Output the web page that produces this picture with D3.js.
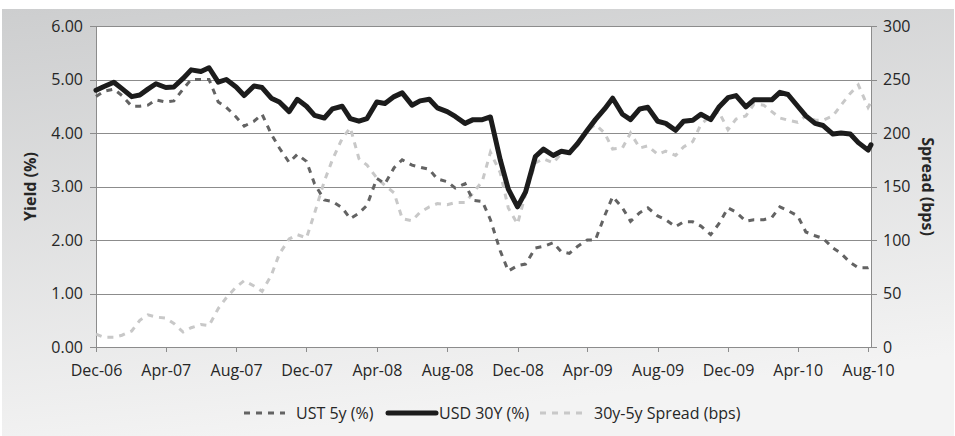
<!DOCTYPE html>
<html>
<head>
<meta charset="utf-8">
<script src="https://cdn.jsdelivr.net/npm/d3@7"></script>
<style>
body { margin: 0; background: #fff; }
text { font-family: 'Open Sans', sans-serif; fill: #262626; }
.axis text { font-size: 16px; }
.axis path, .axis line { stroke: #8c8c8c; shape-rendering: crispEdges; }
.grid line { stroke: #8c8c8c; shape-rendering: crispEdges; }
.grid path { display: none; }
</style>
</head>
<body>
<script>
// semi-monthly readings, Dec-06 to Aug-10
const dates = [
    '2006-12-01','2006-12-15','2007-01-01','2007-01-15','2007-02-01','2007-02-15','2007-03-01','2007-03-15',
    '2007-04-01','2007-04-15','2007-05-01','2007-05-15','2007-06-01','2007-06-15','2007-07-01','2007-07-15',
    '2007-08-01','2007-08-15','2007-09-01','2007-09-15','2007-10-01','2007-10-15','2007-11-01','2007-11-15',
    '2007-12-01','2007-12-15','2008-01-01','2008-01-15','2008-02-01','2008-02-15','2008-03-01','2008-03-15',
    '2008-04-01','2008-04-15','2008-05-01','2008-05-15','2008-06-01','2008-06-15','2008-07-01','2008-07-15',
    '2008-08-01','2008-08-15','2008-09-01','2008-09-15','2008-10-01','2008-10-15','2008-11-01','2008-11-15',
    '2008-12-01','2008-12-15','2009-01-01','2009-01-15','2009-02-01','2009-02-15','2009-03-01','2009-03-15',
    '2009-04-01','2009-04-15','2009-05-01','2009-05-15','2009-06-01','2009-06-15','2009-07-01','2009-07-15',
    '2009-08-01','2009-08-15','2009-09-01','2009-09-15','2009-10-01','2009-10-15','2009-11-01','2009-11-15',
    '2009-12-01','2009-12-15','2010-01-01','2010-01-15','2010-02-01','2010-02-15','2010-03-01','2010-03-15',
    '2010-04-01','2010-04-15','2010-05-01','2010-05-15','2010-06-01','2010-06-15','2010-07-01','2010-07-15',
    '2010-08-01','2010-08-06'
];

const ust5y = [
    4.68, 4.78, 4.82, 4.70, 4.50, 4.50, 4.52, 4.62, 4.58, 4.60, 4.82, 5.00, 5.00, 5.00, 4.58, 4.48,
    4.30, 4.13, 4.22, 4.35, 3.98, 3.72, 3.45, 3.60, 3.47, 3.05, 2.75, 2.72, 2.60, 2.40, 2.50, 2.65,
    3.15, 3.05, 3.35, 3.50, 3.40, 3.36, 3.32, 3.14, 3.09, 2.97, 3.05, 2.74, 2.72, 2.38, 1.80, 1.42,
    1.52, 1.55, 1.85, 1.88, 1.95, 1.78, 1.75, 1.88, 2.00, 2.00, 2.45, 2.81, 2.60, 2.35, 2.51, 2.60,
    2.45, 2.38, 2.25, 2.34, 2.34, 2.26, 2.10, 2.30, 2.60, 2.52, 2.35, 2.38, 2.38, 2.42, 2.62, 2.55,
    2.45, 2.15, 2.08, 2.03, 1.85, 1.75, 1.58, 1.48, 1.48, 1.50
];

const usd30y = [
    4.80, 4.87, 4.95, 4.83, 4.68, 4.71, 4.82, 4.92, 4.85, 4.86, 5.02, 5.18, 5.15, 5.22, 4.95, 5.00,
    4.86, 4.70, 4.88, 4.85, 4.65, 4.58, 4.40, 4.63, 4.50, 4.33, 4.28, 4.45, 4.50, 4.27, 4.22, 4.27,
    4.58, 4.55, 4.68, 4.75, 4.52, 4.60, 4.63, 4.47, 4.40, 4.31, 4.18, 4.25, 4.25, 4.30, 3.50, 2.95,
    2.62, 2.90, 3.56, 3.70, 3.58, 3.66, 3.63, 3.80, 4.05, 4.25, 4.45, 4.65, 4.35, 4.25, 4.45, 4.48,
    4.22, 4.18, 4.05, 4.22, 4.24, 4.35, 4.25, 4.48, 4.66, 4.70, 4.49, 4.62, 4.62, 4.62, 4.76, 4.72,
    4.50, 4.32, 4.18, 4.14, 3.98, 4.00, 3.98, 3.82, 3.68, 3.78
];

const spread = [
    12, 9, 9, 11, 15, 25, 30, 28, 27, 22, 14, 18, 21, 20, 36, 46,
    56, 62, 57, 52, 67, 87, 101, 105, 102, 125, 155, 175, 195, 205, 176, 170,
    158, 151, 144, 120, 118, 126, 131, 134, 133, 135, 135, 144, 155, 182, 163, 130,
    115, 143, 172, 176, 172, 181, 183, 188, 202, 208, 200, 185, 186, 200, 186, 188,
    180, 183, 179, 187, 192, 208, 216, 220, 203, 213, 216, 227, 226, 220, 214, 212,
    210, 216, 212, 212, 216, 226, 237, 245, 224, 229
];

const xTicks = ['2006-12-01','2007-04-01','2007-08-01','2007-12-01','2008-04-01','2008-08-01',
    '2008-12-01','2009-04-01','2009-08-01','2009-12-01','2010-04-01','2010-08-01'];
const yieldTicks = [0, 1, 2, 3, 4, 5, 6];
const spreadTicks = [0, 50, 100, 150, 200, 250, 300];
const seriesNames = ['UST 5y (%)', 'USD 30Y (%)', '30y-5y Spread (bps)'];

const parse = d3.utcParse('%Y-%m-%d');

const outerW = 955,
    outerH = 436;

const margin = { left: 96, right: 84, top: 26, bottom: 89 };
const w = outerW - margin.left - margin.right,
    h = outerH - margin.top - margin.bottom;

const svg = d3.select('body').append('svg')
    .attr('width', outerW)
    .attr('height', outerH);

const defs = svg.append('defs');
const grad = defs.append('linearGradient')
    .attr('id', 'bg')
    .attr('x1', 0).attr('y1', 0)
    .attr('x2', 0.25).attr('y2', 1);
grad.append('stop').attr('offset', '0%').attr('stop-color', '#cdcecf');
grad.append('stop').attr('offset', '100%').attr('stop-color', '#f3f3f3');

svg.append('rect')
    .attr('x', 2)
    .attr('y', 9)
    .attr('width', outerW - 3)
    .attr('height', outerH - 9)
    .attr('fill', 'url(#bg)');

const g = svg.append('g')
    .attr('transform', `translate(${margin.left}, ${margin.top})`);

const x = d3.scaleUtc()
    .domain([parse(dates[0]), parse(dates[dates.length - 1])])
    .range([0, w]);
const y = d3.scaleLinear().domain([0, 6]).range([h, 0]);
const y2 = d3.scaleLinear().domain([0, 300]).range([h, 0]);

g.append('rect')
    .attr('width', w)
    .attr('height', h)
    .attr('fill', '#fff');

// gridlines
g.append('g')
    .attr('class', 'grid')
    .call(d3.axisLeft(y)
        .tickValues(yieldTicks)
        .tickSize(-w)
        .tickFormat('')
    );

// axes
g.append('g')
    .attr('class', 'y axis')
    .call(d3.axisLeft(y)
        .tickValues(yieldTicks)
        .tickSize(6)
        .tickSizeOuter(0)
        .tickPadding(7)
        .tickFormat(d3.format('.2f'))
    );

g.append('g')
    .attr('class', 'y2 axis')
    .attr('transform', `translate(${w}, 0)`)
    .call(d3.axisRight(y2)
        .tickValues(spreadTicks)
        .tickSize(6)
        .tickSizeOuter(0)
        .tickPadding(6)
    );

g.append('g')
    .attr('class', 'x axis')
    .attr('transform', `translate(0, ${h})`)
    .call(d3.axisBottom(x)
        .tickValues(xTicks.map(parse))
        .tickSize(5)
        .tickSizeOuter(0)
        .tickPadding(13)
        .tickFormat(d3.utcFormat('%b-%y'))
    );

g.selectAll('.axis text').attr('fill', '#262626');

// lines
const pts = v => v.map((d, i) => [parse(dates[i]), d]);

const lineY = d3.line()
    .x(d => x(d[0]))
    .y(d => y(d[1]));
const lineY2 = d3.line()
    .x(d => x(d[0]))
    .y(d => y2(d[1]));

g.append('path')
    .datum(pts(spread))
    .attr('fill', 'none')
    .attr('stroke', '#c8c8c8')
    .attr('stroke-width', 3)
    .attr('stroke-dasharray', '6,6')
    .attr('d', lineY2);

g.append('path')
    .datum(pts(ust5y))
    .attr('fill', 'none')
    .attr('stroke', '#636363')
    .attr('stroke-width', 3)
    .attr('stroke-dasharray', '6,6')
    .attr('d', lineY);

g.append('path')
    .datum(pts(usd30y))
    .attr('fill', 'none')
    .attr('stroke', '#1c1c1c')
    .attr('stroke-width', 5)
    .attr('stroke-linejoin', 'round')
    .attr('stroke-linecap', 'round')
    .attr('d', lineY);

// axis titles
svg.append('text')
    .attr('transform', `translate(36, ${margin.top + h / 2}) rotate(-90)`)
    .attr('text-anchor', 'middle')
    .attr('font-size', 16)
    .attr('font-weight', 'bold')
    .text('Yield (%)');

svg.append('text')
    .attr('transform', `translate(922, ${margin.top + h / 2}) rotate(90)`)
    .attr('text-anchor', 'middle')
    .attr('font-size', 16)
    .attr('font-weight', 'bold')
    .text('Spread (bps)');

// legend
const legendY = 413;
const legendItems = [
    { name: seriesNames[0], x: 244, len: 41, stroke: '#636363', width: 3, dash: '6,6', cap: 'butt' },
    { name: seriesNames[1], x: 388, len: 48, stroke: '#1c1c1c', width: 5, dash: null, cap: 'round' },
    { name: seriesNames[2], x: 540, len: 43, stroke: '#c8c8c8', width: 3, dash: '6,6', cap: 'butt' }
];
const lg = svg.append('g').attr('class', 'legend');
const li = lg.selectAll('g')
    .data(legendItems)
    .enter()
    .append('g')
    .attr('transform', d => `translate(${d.x}, ${legendY})`);

li.append('line')
    .attr('x1', 0)
    .attr('x2', d => d.len)
    .attr('stroke', d => d.stroke)
    .attr('stroke-width', d => d.width)
    .attr('stroke-dasharray', d => d.dash)
    .attr('stroke-linecap', d => d.cap);

li.append('text')
    .attr('x', (d, i) => i === 1 ? d.len + 3 : d.len + 11)
    .attr('dy', '0.35em')
    .attr('font-size', 16)
    .text(d => d.name);
</script>
</body>
</html>
